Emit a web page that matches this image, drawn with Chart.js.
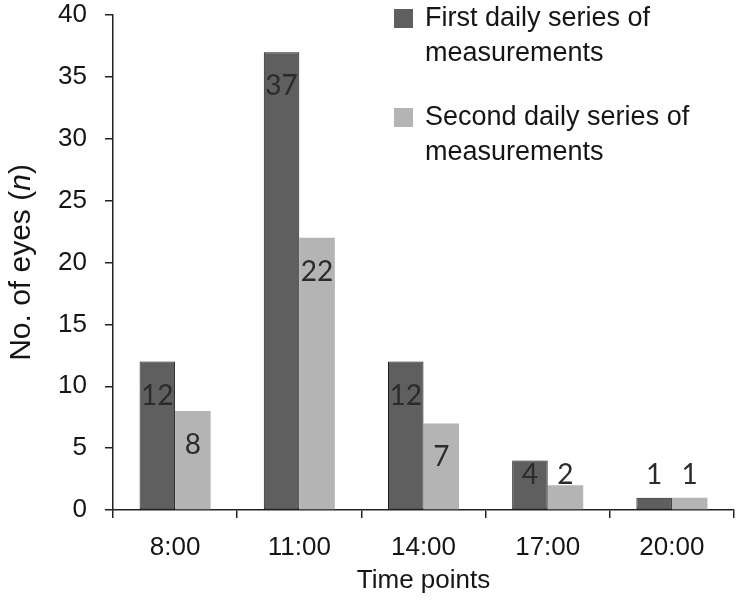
<!DOCTYPE html>
<html>
<head>
<meta charset="utf-8">
<script src="https://cdn.jsdelivr.net/npm/chart.js@4.4.1/dist/chart.umd.min.js"></script>
<style>
  html, body { margin: 0; padding: 0; background: #fff; }
  #wrap { width: 743px; height: 602px; position: relative; }
</style>
</head>
<body>
<div id="wrap"><canvas id="c" width="743" height="602"></canvas></div>
<script>
const categories = ["8:00", "11:00", "14:00", "17:00", "20:00"];
const firstSeries = [12, 37, 12, 4, 1];
const secondSeries = [8, 22, 7, 2, 1];
const seriesNames = [["First daily series of", "measurements"], ["Second daily series of", "measurements"]];
const yTicks = [0, 5, 10, 15, 20, 25, 30, 35, 40];
const yTitle = ["No. of eyes (", "n", ")"];
const xTitle = "Time points";

const SANS = "'Liberation Sans', Arial, sans-serif";
const INK = "#151515";

const overlay = {
  id: 'overlay',
  afterDatasetsDraw(chart) {
    const ctx = chart.ctx;
    const y = chart.scales.y;
    ctx.save();
    ctx.font = "28px Lato, 'Open Sans', sans-serif";
    ctx.fillStyle = "#2b2b2b";
    ctx.textAlign = "center";
    ctx.textBaseline = "middle";
    const floorY = y.getPixelForValue(0) - 35;
    chart.data.datasets.forEach((ds, di) => {
      chart.getDatasetMeta(di).data.forEach((bar, i) => {
        const cy = Math.min(bar.y + 34, floorY);
        ctx.fillText(String(ds.data[i]), bar.x, cy);
      });
    });
    ctx.restore();
  },
  afterDraw(chart) {
    const ctx = chart.ctx;
    const area = chart.chartArea;
    ctx.save();
    ctx.font = "27px " + SANS;
    ctx.textAlign = "left";
    ctx.textBaseline = "alphabetic";
    const tops = [9, 108];
    chart.data.datasets.forEach((ds, di) => {
      const t = tops[di];
      ctx.fillStyle = ds.backgroundColor;
      ctx.fillRect(394, t, 19, 19);
      ctx.fillStyle = INK;
      seriesNames[di].forEach((line, li) => {
        ctx.fillText(line, 425, t + 17 + li * 34.5);
      });
    });
    const cx = 30, cy = (area.top + area.bottom) / 2;
    ctx.translate(cx, cy);
    ctx.rotate(-Math.PI / 2);
    const fonts = ["30px " + SANS, "italic 30px " + SANS, "30px " + SANS];
    let total = 0;
    const widths = yTitle.map((s, k) => { ctx.font = fonts[k]; const w = ctx.measureText(s).width; total += w; return w; });
    let x = -total / 2;
    ctx.fillStyle = INK;
    yTitle.forEach((s, k) => { ctx.font = fonts[k]; ctx.fillText(s, x, 0); x += widths[k]; });
    ctx.restore();
  }
};

new Chart(document.getElementById('c'), {
  type: 'bar',
  data: {
    labels: categories,
    datasets: [
      { label: seriesNames[0].join(' '), data: firstSeries, backgroundColor: '#5f5f5f', borderColor: '#1a1a1a', borderWidth: 1, borderSkipped: false },
      { label: seriesNames[1].join(' '), data: secondSeries, backgroundColor: '#b4b4b4', borderColor: '#b4b4b4', borderWidth: 0 }
    ]
  },
  options: {
    responsive: false,
    animation: false,
    events: [],
    layout: { padding: { top: 15, right: 9, left: 0, bottom: 0 } },
    plugins: { legend: { display: false }, tooltip: { enabled: false } },
    datasets: { bar: { categoryPercentage: 0.572, barPercentage: 1.0 } },
    scales: {
      x: {
        offset: true,
        afterFit(s) { s.height = 92; s.paddingLeft = 0; s.paddingRight = 0; },
        grid: { display: true, offset: true, drawOnChartArea: false, drawTicks: true, tickLength: 8, color: '#222', lineWidth: 1.5 },
        border: { display: true, color: '#222', width: 1.5 },
        ticks: { color: INK, font: { family: SANS, size: 26 }, padding: 14 },
        title: { display: true, text: xTitle, color: INK, font: { family: SANS, size: 26 }, padding: { top: 0, bottom: 6 } }
      },
      y: {
        min: 0, max: 40,
        afterFit(s) { s.width = 113; s.paddingTop = 0; s.paddingBottom = 0; },
        afterBuildTicks(s) { s.ticks = yTicks.map(v => ({ value: v })); },
        grid: { display: true, drawOnChartArea: false, drawTicks: true, tickLength: 8, color: '#222', lineWidth: 1.5 },
        border: { display: true, color: '#222', width: 1.5 },
        ticks: { color: INK, font: { family: SANS, size: 26 }, padding: 18 }
      }
    }
  },
  plugins: [overlay]
});
</script>
</body>
</html>
